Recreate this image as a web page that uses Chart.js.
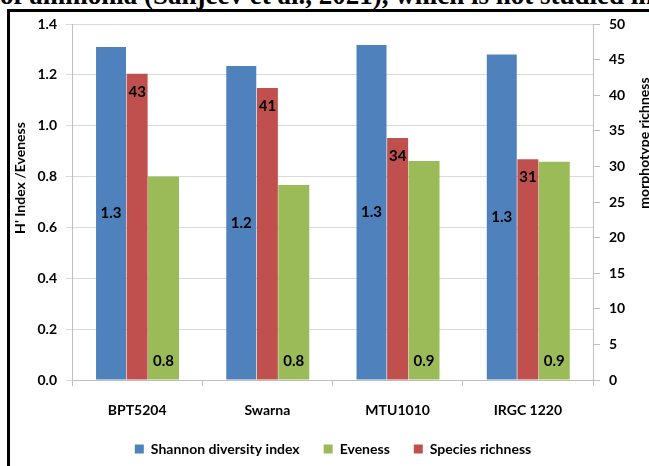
<!DOCTYPE html>
<html>
<head>
<meta charset="utf-8">
<script src="https://cdn.jsdelivr.net/npm/chart.js@4.4.0/dist/chart.umd.min.js"></script>
<style>
    html, body { margin: 0; padding: 0; background: #fff; overflow: hidden; }
    #wrap { position: relative; width: 649px; height: 466px; overflow: hidden; background: #fff; }
    #cutText {
        position: absolute; left: 0; top: -18px; white-space: nowrap;
        font-family: "Liberation Serif", "Times New Roman", serif;
        font-weight: bold; font-size: 27px; line-height: 27px; color: #000;
    }
    #frame {
        position: absolute; left: 7px; top: 9px; width: 700px; height: 520px;
        border: 3px solid #000; pointer-events: none;
    }
    #chart { position: absolute; left: 0; top: 0; }
</style>
</head>
<body>
<div id="wrap">
    <div id="cutText">of ammonia (Sanjeev et al., 2021), which is not studied in</div>
    <canvas id="chart" width="649" height="466"></canvas>
    <div id="frame"></div>
</div>
<script>
/* --- 数据 --- */
const categories = ["BPT5204", "Swarna", "MTU1010", "IRGC 1220"];
const shannon = [1.31, 1.235, 1.317, 1.28];      // 左轴 H' index
const eveness = [0.80, 0.767, 0.861, 0.858];     // 左轴 Eveness
const richness = [43, 41, 34, 31];               // 右轴 morphotype richness
const leftTicks = [0, 0.2, 0.4, 0.6, 0.8, 1.0, 1.2, 1.4];
const rightTicks = [0, 5, 10, 15, 20, 25, 30, 35, 40, 45, 50];

const BLUE = "#4F81BD";
const RED = "#C0504D";
const GREEN = "#9BBB59";
const FONT = "Lato, 'Open Sans', sans-serif";

/* --- 柱上数字 --- */
const valueLabels = {
    id: "valueLabels",
    afterDatasetsDraw(chart) {
        const ctx = chart.ctx;
        ctx.save();
        ctx.font = "bold 15px " + FONT;
        ctx.fillStyle = "#000";
        ctx.textAlign = "center";
        ctx.textBaseline = "middle";
        chart.data.datasets.forEach((ds, di) => {
            const meta = chart.getDatasetMeta(di);
            meta.data.forEach((bar, i) => {
                const v = ds.data[i];
                let txt, y;
                if (ds.labelPos === "center") {
                    txt = v.toFixed(1);
                    y = (bar.y + bar.base) / 2;
                } else if (ds.labelPos === "end") {
                    txt = String(Math.round(v));
                    y = bar.y + 18;
                } else {
                    txt = v.toFixed(1);
                    y = bar.base - 18;
                }
                ctx.fillText(txt, bar.x, y);
            });
        });
        ctx.restore();
    }
};

/* --- 轴标题（位置按原图） --- */
function rotatedText(ctx, txt, x, y) {
    ctx.save();
    ctx.font = "bold 14px " + FONT;
    ctx.fillStyle = "#000";
    ctx.textAlign = "center";
    ctx.textBaseline = "middle";
    ctx.translate(x, y);
    ctx.rotate(-Math.PI / 2);
    ctx.fillText(txt, 0, 0);
    ctx.restore();
}

const axisTitles = {
    id: "axisTitles",
    afterDraw(chart) {
        rotatedText(chart.ctx, "H' Index /Eveness", 20, 178);
        rotatedText(chart.ctx, "morphotype richness", 644, 143);
    }
};

const legendOrder = [0, 2, 1];
const tickFont = { family: FONT, size: 14, weight: "bold" };

new Chart(document.getElementById("chart"), {
    type: "bar",
    data: {
        labels: categories,
        datasets: [
            {
                label: "Shannon diversity index", data: shannon, yAxisID: "y",
                backgroundColor: BLUE, categoryPercentage: 0.601, barPercentage: 1.149,
                labelPos: "center"
            },
            {
                label: "Species richness", data: richness, yAxisID: "y1",
                backgroundColor: RED, categoryPercentage: 0.6, barPercentage: 0.806,
                labelPos: "end"
            },
            {
                label: "Eveness", data: eveness, yAxisID: "y",
                backgroundColor: GREEN, categoryPercentage: 0.608, barPercentage: 1.174,
                labelPos: "base"
            }
        ]
    },
    options: {
        responsive: false,
        animation: false,
        devicePixelRatio: 1,
        layout: { padding: { left: 17, right: 0, top: 24, bottom: 0 } },
        plugins: {
            tooltip: { enabled: false },
            legend: {
                position: "bottom",
                labels: {
                    boxWidth: 9, boxHeight: 9, padding: 24, color: "#000",
                    font: tickFont,
                    sort: (a, b) => legendOrder.indexOf(a.datasetIndex) - legendOrder.indexOf(b.datasetIndex)
                }
            }
        },
        scales: {
            x: {
                afterFit: s => { s.height = 38; },
                grid: {
                    offset: true, drawOnChartArea: false, drawTicks: true,
                    tickLength: 6, color: "#bfbfbf"
                },
                border: { color: "#bfbfbf" },
                ticks: { color: "#000", padding: 16, font: tickFont }
            },
            y: {
                position: "left",
                min: 0, max: 1.4,
                afterFit: s => { s.width = 55; },
                afterBuildTicks: s => { s.ticks = leftTicks.map(v => ({ value: v })); },
                grid: { color: "#d9d9d9", tickLength: 6 },
                border: { color: "#bfbfbf" },
                ticks: {
                    color: "#000", padding: 9, font: tickFont,
                    callback: v => Number(v).toFixed(1)
                }
            },
            y1: {
                position: "right",
                min: 0, max: 50,
                afterFit: s => { s.width = 56; },
                afterBuildTicks: s => { s.ticks = rightTicks.map(v => ({ value: v })); },
                grid: { drawOnChartArea: false, color: "#bfbfbf", tickLength: 7 },
                border: { color: "#bfbfbf" },
                ticks: { color: "#000", padding: 9, font: tickFont }
            }
        }
    },
    plugins: [valueLabels, axisTitles]
});
</script>
</body>
</html>
